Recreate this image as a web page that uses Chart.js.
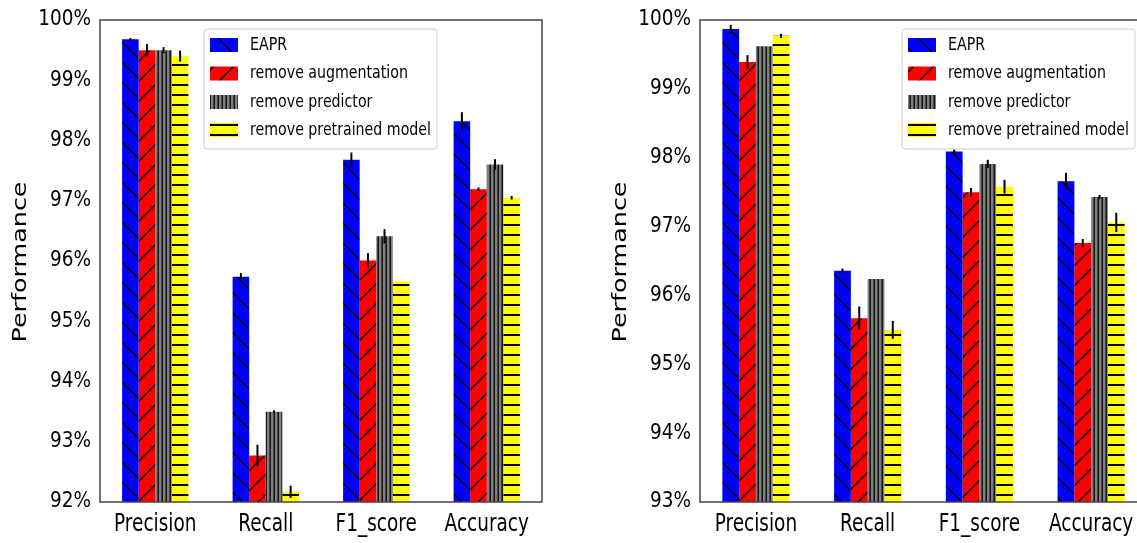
<!doctype html>
<html>
<head>
<meta charset="utf-8">
<script src="https://cdn.jsdelivr.net/npm/chart.js"></script>
<style>
  html, body { margin: 0; padding: 0; background: #fff; overflow: hidden; }
  body { width: 1137px; height: 543px; position: relative; }
  .box { position: absolute; top: 0; height: 543px; width: 560px; }
</style>
<title>EAPR ablation</title>
</head>
<body>
<div class="box" style="left:0px"><canvas id="leftchart"></canvas></div>
<div class="box" style="left:600px"><canvas id="rightchart"></canvas></div>
<script>
// categories and series
const categories = ['Precision', 'Recall', 'F1_score', 'Accuracy'];
const seriesNames = ['EAPR', 'remove augmentation', 'remove predictor', 'remove pretrained model'];

// left panel values (%)
const eaprL  = [99.68, 95.74, 97.68, 98.32];
const augL   = [99.50, 92.77, 96.01, 97.19];
const predL  = [99.50, 93.50, 96.41, 97.60];
const pretrL = [99.40, 92.17, 95.66, 97.05];
// left panel error bars (+/-)
const eaprErrL  = [0.02, 0.06, 0.12, 0.15];
const augErrL   = [0.10, 0.18, 0.12, 0.03];
const predErrL  = [0.05, 0.02, 0.12, 0.09];
const pretrErrL = [0.09, 0.10, 0.00, 0.03];

// right panel values (%)
const eaprR  = [99.87, 96.36, 98.09, 97.66];
const augR   = [99.39, 95.67, 97.50, 96.76];
const predR  = [99.62, 96.24, 97.91, 97.43];
const pretrR = [99.77, 95.50, 97.58, 97.06];
// right panel error bars (+/-)
const eaprErrR  = [0.06, 0.03, 0.03, 0.12];
const augErrR   = [0.10, 0.17, 0.06, 0.06];
const predErrR  = [0.00, 0.00, 0.06, 0.03];
const pretrErrR = [0.03, 0.13, 0.10, 0.14];

const barColors = ['#0000ff', '#ff0000', '#808080', '#ffff00'];
const hatchKinds = ['back', 'fwd', 'vert', 'horiz'];

function makeHatch(bg, kind) {
  const c = document.createElement('canvas');
  let w = 20, h = 20;
  if (kind == 'vert') { w = 4; h = 4; }
  if (kind == 'horiz') { w = 10; h = 10; }
  c.width = w; c.height = h;
  const g = c.getContext('2d');
  g.fillStyle = bg;
  g.fillRect(0, 0, w, h);
  g.strokeStyle = '#000';
  g.fillStyle = '#000';
  g.lineWidth = 1.5;
  if (kind == 'back') {
    for (let o = -20; o <= 20; o += 20) {
      g.beginPath(); g.moveTo(o, 0); g.lineTo(o + 20, 20); g.stroke();
    }
  } else if (kind == 'fwd') {
    for (let o = -20; o <= 20; o += 20) {
      g.beginPath(); g.moveTo(o, 20); g.lineTo(o + 20, 0); g.stroke();
    }
  } else if (kind == 'vert') {
    g.fillRect(1.5, 0, 1.3, 4);
  } else {
    g.fillRect(0, 4, 10, 2);
  }
  return g.createPattern(c, 'repeat');
}

// draw text squeezed/stretched horizontally by sx
function squeezeText(ctx, txt, x, y, sx, align) {
  ctx.save();
  ctx.translate(x, y);
  ctx.scale(sx, 1);
  ctx.textAlign = align;
  ctx.textBaseline = 'middle';
  ctx.fillText(txt, 0, 0);
  ctx.restore();
}

function makeChart(id, values, errs, legendX, padRight, ymin) {
  const patterns = barColors.map((col, i) => makeHatch(col, hatchKinds[i]));

  const extras = {
    id: 'extras',
    afterDatasetsDraw(chart) {
      const ctx = chart.ctx;
      const ys = chart.scales.y;
      ctx.save();
      ctx.strokeStyle = '#000';
      ctx.lineWidth = 2;
      chart.data.datasets.forEach((ds, di) => {
        const meta = chart.getDatasetMeta(di);
        meta.data.forEach((bar, i) => {
          const e = errs[di][i];
          if (!e) return;
          const v = ds.data[i];
          ctx.beginPath();
          ctx.moveTo(bar.x, ys.getPixelForValue(v + e));
          ctx.lineTo(bar.x, ys.getPixelForValue(v - e));
          ctx.stroke();
        });
      });
      ctx.restore();
    },
    afterDraw(chart) {
      const ctx = chart.ctx;
      const a = chart.chartArea;
      const xs = chart.scales.x, ys = chart.scales.y;
      ctx.save();
      // frame
      ctx.strokeStyle = '#444';
      ctx.lineWidth = 1.5;
      ctx.strokeRect(a.left, a.top, a.right - a.left, a.bottom - a.top);

      ctx.fillStyle = '#000';
      // y tick labels
      ctx.font = '21px "DejaVu Sans"';
      ys.ticks.forEach(t => {
        squeezeText(ctx, t.value + '%', a.left - 9, ys.getPixelForValue(t.value), 0.88, 'right');
      });
      // x tick labels
      ctx.font = '24px "DejaVu Sans"';
      categories.forEach((c, i) => {
        squeezeText(ctx, c, xs.getPixelForTick(i), 525, 0.77, 'center');
      });

      // y title
      ctx.font = '20px "DejaVu Sans"';
      const t = 'Performance';
      const tw = ctx.measureText(t).width;
      ctx.translate(21, 262);
      ctx.rotate(-Math.PI / 2);
      squeezeText(ctx, t, 0, 0, 161 / tw, 'center');
      ctx.restore();

      // legend
      ctx.save();
      const bx = legendX, by = 29, bw = 233, bh = 120;
      ctx.fillStyle = 'rgba(255,255,255,0.85)';
      ctx.strokeStyle = '#cccccc';
      ctx.lineWidth = 1;
      ctx.beginPath();
      ctx.roundRect(bx, by, bw, bh, 3);
      ctx.fill();
      ctx.stroke();
      ctx.font = '18px "DejaVu Sans"';
      const sx = 181 / ctx.measureText(seriesNames[3]).width;
      const rows = [45, 73.5, 102, 130];
      seriesNames.forEach((name, i) => {
        ctx.fillStyle = patterns[i];
        ctx.fillRect(bx + 6, rows[i] - 7, 28, 14);
        ctx.fillStyle = '#000';
        squeezeText(ctx, name, bx + 46, rows[i], sx, 'left');
      });
      ctx.restore();
    }
  };

  const datasets = seriesNames.map((name, i) => ({
    label: name,
    data: values[i],
    backgroundColor: patterns[i],
    borderWidth: 0,
    barPercentage: 1.0,
    categoryPercentage: 0.6
  }));

  return new Chart(document.getElementById(id), {
    type: 'bar',
    data: { labels: categories, datasets: datasets },
    plugins: [extras],
    options: {
      responsive: true,
      maintainAspectRatio: false,
      animation: false,
      layout: { padding: { top: 20, right: padRight, bottom: 0, left: 0 } },
      plugins: { legend: { display: false }, tooltip: { enabled: false } },
      scales: {
        x: {
          grid: { display: false, drawTicks: false },
          border: { display: false },
          ticks: { display: false },
          afterFit(s) { s.height = 41; }
        },
        y: {
          min: ymin, max: 100,
          grid: { display: false, drawTicks: false },
          border: { display: false },
          ticks: { stepSize: 1, display: false },
          afterFit(s) { s.width = 100; }
        }
      }
    }
  });
}

makeChart('leftchart', [eaprL, augL, predL, pretrL], [eaprErrL, augErrL, predErrL, pretrErrL], 204, 18, 92);
makeChart('rightchart', [eaprR, augR, predR, pretrR], [eaprErrR, augErrR, predErrR, pretrErrR], 302, 13, 93);
</script>
</body>
</html>
